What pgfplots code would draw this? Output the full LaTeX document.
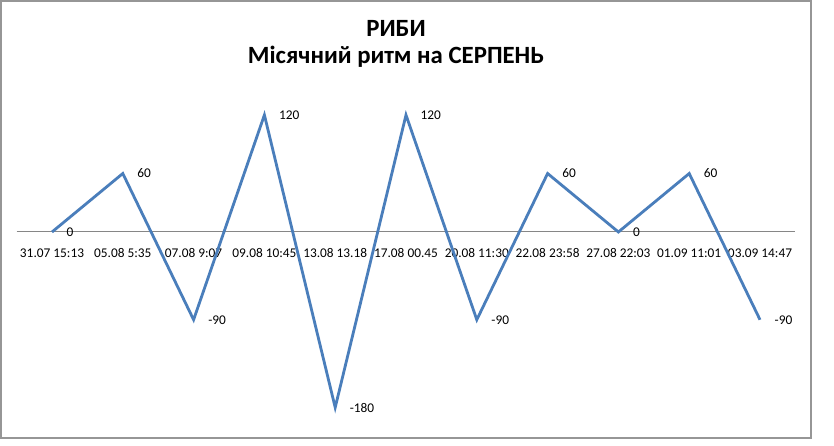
\documentclass[border=0pt]{standalone}
\usepackage{fontspec}
\setmainfont{Carlito}
\usepackage{pgfplots}
\pgfplotsset{compat=1.18}

\definecolor{lineblue}{RGB}{74,126,187}
\definecolor{framegray}{RGB}{150,150,150}
\definecolor{axisgray}{RGB}{134,134,134}

\begin{document}
\begin{tikzpicture}[x=0.5pt,y=0.5pt]
  % page = 834 x 445 px, 1 px = 0.5pt
  \useasboundingbox (0,0) rectangle (834,445);
  \fill[white] (0,0) rectangle (834,445);
  \draw[framegray, line width=0.75pt] (1,7) rectangle (811,444);

  \node[font=\bfseries\fontsize{12.4}{14}\selectfont] at (396,417) {РИБИ};
  \node[font=\bfseries\fontsize{12.4}{14}\selectfont] at (396,388) {Місячний ритм на СЕРПЕНЬ};

  \begin{axis}[
    at={(26pt,106.5pt)}, anchor=origin,
    scale only axis,
    width=389.4pt, height=146.25pt,
    xmin=-0.5, xmax=10.5,
    ymin=-180, ymax=120,
    clip=false,
    axis x line*=middle,
    axis y line=none,
    axis line style={axisgray, line width=0.5pt},
    major tick length=0pt,
    xtick={0,...,10},
    xticklabels={31.07 15:13, 05.08 5:35, 07.08 9:07, 09.08 10:45, 13.08 13.18,
      17.08 00.45, 20.08 11:30, 22.08 23:58, 27.08 22:03, 01.09 11:01, 03.09 14:47},
    xticklabel style={anchor=center, yshift=-10.5pt, font=\fontsize{6.67}{8}\selectfont},
    point meta=explicit symbolic,
    nodes near coords,
    every node near coord/.append style={anchor=west, xshift=3.3pt, font=\fontsize{6.67}{8}\selectfont, text=black},
  ]
  \addplot[lineblue, line width=1.4pt, mark=none] coordinates {
    (0,0) [0]
    (1,60) [60]
    (2,-90) [-90]
    (3,120) [120]
    (4,-180) [-180]
    (5,120) [120]
    (6,-90) [-90]
    (7,60) [60]
    (8,0) [0]
    (9,60) [60]
    (10,-90) [-90]
  };
  \end{axis}
\end{tikzpicture}
\end{document}
